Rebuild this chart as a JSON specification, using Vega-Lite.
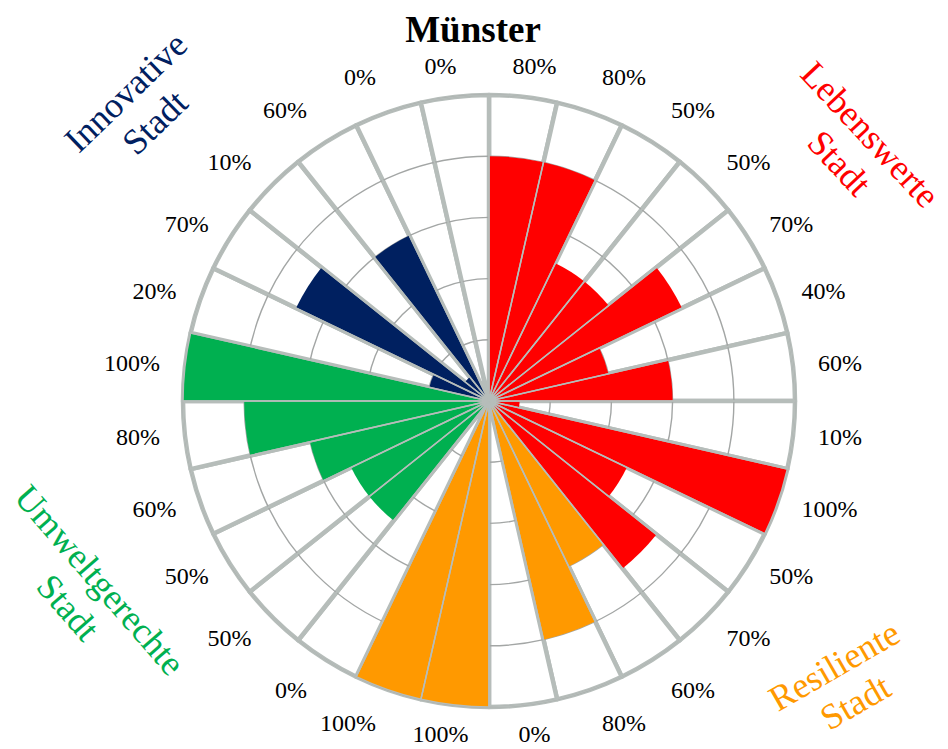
{
  "$schema": "https://vega.github.io/schema/vega-lite/v6.json",
  "autosize": "none",
  "width": 612,
  "height": 612,
  "padding": {"left": 183, "top": 95, "right": 153, "bottom": 42},
  "background": "white",
  "config": {"view": {"stroke": null}, "font": "Liberation Serif"},
  "title": {"text": "Münster", "font": "Liberation Serif", "fontSize": 37, "fontWeight": "bold", "color": "#000000", "anchor": "middle", "frame": "group", "dx": -16, "offset": -24},
  "datasets": {
    "scores": [
      {"seg": 1, "group": "Lebenswerte Stadt", "value": 0.8, "w": 1},
      {"seg": 2, "group": "Lebenswerte Stadt", "value": 0.8, "w": 1},
      {"seg": 3, "group": "Lebenswerte Stadt", "value": 0.5, "w": 1},
      {"seg": 4, "group": "Lebenswerte Stadt", "value": 0.5, "w": 1},
      {"seg": 5, "group": "Lebenswerte Stadt", "value": 0.7, "w": 1},
      {"seg": 6, "group": "Lebenswerte Stadt", "value": 0.4, "w": 1},
      {"seg": 7, "group": "Lebenswerte Stadt", "value": 0.6, "w": 1},
      {"seg": 8, "group": "Lebenswerte Stadt", "value": 0.1, "w": 1},
      {"seg": 9, "group": "Lebenswerte Stadt", "value": 1.0, "w": 1},
      {"seg": 10, "group": "Lebenswerte Stadt", "value": 0.5, "w": 1},
      {"seg": 11, "group": "Lebenswerte Stadt", "value": 0.7, "w": 1},
      {"seg": 12, "group": "Resiliente Stadt", "value": 0.6, "w": 1},
      {"seg": 13, "group": "Resiliente Stadt", "value": 0.8, "w": 1},
      {"seg": 14, "group": "Resiliente Stadt", "value": 0.0, "w": 1},
      {"seg": 15, "group": "Resiliente Stadt", "value": 1.0, "w": 1},
      {"seg": 16, "group": "Resiliente Stadt", "value": 1.0, "w": 1},
      {"seg": 17, "group": "Umweltgerechte Stadt", "value": 0.0, "w": 1},
      {"seg": 18, "group": "Umweltgerechte Stadt", "value": 0.5, "w": 1},
      {"seg": 19, "group": "Umweltgerechte Stadt", "value": 0.5, "w": 1},
      {"seg": 20, "group": "Umweltgerechte Stadt", "value": 0.6, "w": 1},
      {"seg": 21, "group": "Umweltgerechte Stadt", "value": 0.8, "w": 1},
      {"seg": 22, "group": "Umweltgerechte Stadt", "value": 1.0, "w": 1},
      {"seg": 23, "group": "Innovative Stadt", "value": 0.2, "w": 1},
      {"seg": 24, "group": "Innovative Stadt", "value": 0.7, "w": 1},
      {"seg": 25, "group": "Innovative Stadt", "value": 0.1, "w": 1},
      {"seg": 26, "group": "Innovative Stadt", "value": 0.6, "w": 1},
      {"seg": 27, "group": "Innovative Stadt", "value": 0.0, "w": 1},
      {"seg": 28, "group": "Innovative Stadt", "value": 0.0, "w": 1}
    ],
    "rings": [{"ring": 0.2}, {"ring": 0.4}, {"ring": 0.6}, {"ring": 0.8}, {"ring": 1.0}],
    "groups": [
      {"group": "Lebenswerte Stadt", "label": "Lebenswerte\nStadt"},
      {"group": "Resiliente Stadt", "label": "Resiliente\nStadt"},
      {"group": "Umweltgerechte Stadt", "label": "Umweltgerechte\nStadt"},
      {"group": "Innovative Stadt", "label": "Innovative\nStadt"}
    ]
  },
  "layer": [
    {
      "data": {"name": "scores"},
      "mark": {"type": "arc", "fill": "white", "stroke": "#b6bdba", "strokeWidth": 4.5, "strokeJoin": "round"},
      "encoding": {
        "theta": {"field": "w", "type": "quantitative", "stack": true, "scale": {"domain": [0, 28], "range": [0, 6.283185307179586]}},
        "order": {"field": "seg", "type": "quantitative"},
        "radius": {"datum": 1, "type": "quantitative", "scale": {"type": "linear", "domain": [0, 1], "range": [0, 306]}}
      }
    },
    {
      "data": {"name": "rings"},
      "mark": {"type": "arc", "fill": null, "filled": false, "stroke": "#a3a6a5", "strokeWidth": 1.4, "theta": 0, "theta2": 6.283185307179586},
      "encoding": {
        "radius": {"field": "ring", "type": "quantitative", "stack": null}
      }
    },
    {
      "data": {"name": "scores"},
      "transform": [{"stack": "w", "groupby": [], "sort": [{"field": "seg", "order": "ascending"}], "as": ["t0", "t1"]}],
      "mark": {"type": "arc", "stroke": null},
      "encoding": {
        "theta": {"field": "t0", "type": "quantitative"},
        "theta2": {"field": "t1"},
        "radius": {"field": "value", "type": "quantitative", "stack": null},
        "color": {"field": "group", "type": "nominal", "legend": null, "scale": {"domain": ["Lebenswerte Stadt", "Resiliente Stadt", "Umweltgerechte Stadt", "Innovative Stadt"], "range": ["#ff0000", "#ff9900", "#00b050", "#002060"]}}
      }
    },
    {
      "data": {"name": "scores"},
      "mark": {"type": "arc", "filled": false, "fill": null, "stroke": "#b6bdba", "strokeWidth": 1.5, "strokeJoin": "bevel"},
      "encoding": {
        "theta": {"field": "w", "type": "quantitative", "stack": true},
        "order": {"field": "seg", "type": "quantitative"},
        "radius": {"datum": 1, "type": "quantitative"}
      }
    },
    {
      "data": {"name": "scores"},
      "mark": {"type": "text", "fontSize": 24, "font": "Liberation Serif", "color": "#000000", "align": "left", "baseline": "middle"},
      "encoding": {
        "theta": {"field": "w", "type": "quantitative", "stack": true},
        "order": {"field": "seg", "type": "quantitative"},
        "radius": {"datum": 1.082, "type": "quantitative"},
        "text": {"condition": {"test": "datum.seg >= 5 && datum.seg <= 10", "field": "value", "type": "quantitative", "format": ".0%"}, "value": ""}
      }
    },
    {
      "data": {"name": "scores"},
      "mark": {"type": "text", "fontSize": 24, "font": "Liberation Serif", "color": "#000000", "align": "left", "baseline": "middle"},
      "encoding": {
        "theta": {"field": "w", "type": "quantitative", "stack": true},
        "order": {"field": "seg", "type": "quantitative"},
        "radius": {"datum": 1.098, "type": "quantitative"},
        "text": {"condition": {"test": "datum.seg == 4 || datum.seg == 11", "field": "value", "type": "quantitative", "format": ".0%"}, "value": ""}
      }
    },
    {
      "data": {"name": "scores"},
      "mark": {"type": "text", "fontSize": 24, "font": "Liberation Serif", "color": "#000000", "align": "left", "baseline": "middle"},
      "encoding": {
        "theta": {"field": "w", "type": "quantitative", "stack": true},
        "order": {"field": "seg", "type": "quantitative"},
        "radius": {"datum": 1.118, "type": "quantitative"},
        "text": {"condition": {"test": "datum.seg == 2 || datum.seg == 3 || datum.seg == 12 || datum.seg == 13", "field": "value", "type": "quantitative", "format": ".0%"}, "value": ""}
      }
    },
    {
      "data": {"name": "scores"},
      "mark": {"type": "text", "fontSize": 24, "font": "Liberation Serif", "color": "#000000", "align": "right", "baseline": "middle"},
      "encoding": {
        "theta": {"field": "w", "type": "quantitative", "stack": true},
        "order": {"field": "seg", "type": "quantitative"},
        "radius": {"datum": 1.082, "type": "quantitative"},
        "text": {"condition": {"test": "datum.seg >= 19 && datum.seg <= 24", "field": "value", "type": "quantitative", "format": ".0%"}, "value": ""}
      }
    },
    {
      "data": {"name": "scores"},
      "mark": {"type": "text", "fontSize": 24, "font": "Liberation Serif", "color": "#000000", "align": "right", "baseline": "middle"},
      "encoding": {
        "theta": {"field": "w", "type": "quantitative", "stack": true},
        "order": {"field": "seg", "type": "quantitative"},
        "radius": {"datum": 1.098, "type": "quantitative"},
        "text": {"condition": {"test": "datum.seg == 18 || datum.seg == 25", "field": "value", "type": "quantitative", "format": ".0%"}, "value": ""}
      }
    },
    {
      "data": {"name": "scores"},
      "mark": {"type": "text", "fontSize": 24, "font": "Liberation Serif", "color": "#000000", "align": "right", "baseline": "middle"},
      "encoding": {
        "theta": {"field": "w", "type": "quantitative", "stack": true},
        "order": {"field": "seg", "type": "quantitative"},
        "radius": {"datum": 1.118, "type": "quantitative"},
        "text": {"condition": {"test": "datum.seg == 16 || datum.seg == 17 || datum.seg == 26 || datum.seg == 27", "field": "value", "type": "quantitative", "format": ".0%"}, "value": ""}
      }
    },
    {
      "data": {"name": "scores"},
      "mark": {"type": "text", "fontSize": 24, "font": "Liberation Serif", "color": "#000000", "align": "center", "baseline": "middle", "dx": 8},
      "encoding": {
        "theta": {"field": "w", "type": "quantitative", "stack": true},
        "order": {"field": "seg", "type": "quantitative"},
        "radius": {"datum": 1.098, "type": "quantitative"},
        "text": {"condition": {"test": "datum.seg == 1 || datum.seg == 14", "field": "value", "type": "quantitative", "format": ".0%"}, "value": ""}
      }
    },
    {
      "data": {"name": "scores"},
      "mark": {"type": "text", "fontSize": 24, "font": "Liberation Serif", "color": "#000000", "align": "center", "baseline": "middle", "dx": -11},
      "encoding": {
        "theta": {"field": "w", "type": "quantitative", "stack": true},
        "order": {"field": "seg", "type": "quantitative"},
        "radius": {"datum": 1.098, "type": "quantitative"},
        "text": {"condition": {"test": "datum.seg == 15 || datum.seg == 28", "field": "value", "type": "quantitative", "format": ".0%"}, "value": ""}
      }
    },
    {
      "data": {"name": "groups"},
      "transform": [{"filter": "datum.group == 'Lebenswerte Stadt'"}],
      "mark": {"type": "text", "fontSize": 36, "font": "Liberation Serif", "align": "center", "baseline": "middle", "angle": 47, "lineBreak": "\n", "lineHeight": 42, "dy": -20},
      "encoding": {
        "theta": {"datum": 4.31, "type": "quantitative"},
        "radius": {"datum": 1.452, "type": "quantitative"},
        "text": {"field": "label", "type": "nominal"},
        "color": {"field": "group", "type": "nominal", "legend": null}
      }
    },
    {
      "data": {"name": "groups"},
      "transform": [{"filter": "datum.group == 'Resiliente Stadt'"}],
      "mark": {"type": "text", "fontSize": 36, "font": "Liberation Serif", "align": "center", "baseline": "middle", "angle": -30, "lineBreak": "\n", "lineHeight": 42, "dy": -20},
      "encoding": {
        "theta": {"datum": 9.995, "type": "quantitative"},
        "radius": {"datum": 1.486, "type": "quantitative"},
        "text": {"field": "label", "type": "nominal"},
        "color": {"field": "group", "type": "nominal", "legend": null}
      }
    },
    {
      "data": {"name": "groups"},
      "transform": [{"filter": "datum.group == 'Umweltgerechte Stadt'"}],
      "mark": {"type": "text", "fontSize": 36, "font": "Liberation Serif", "align": "center", "baseline": "middle", "angle": 49, "lineBreak": "\n", "lineHeight": 42, "dy": -20},
      "encoding": {
        "theta": {"datum": 19.02, "type": "quantitative"},
        "radius": {"datum": 1.466, "type": "quantitative"},
        "text": {"field": "label", "type": "nominal"},
        "color": {"field": "group", "type": "nominal", "legend": null}
      }
    },
    {
      "data": {"name": "groups"},
      "transform": [{"filter": "datum.group == 'Innovative Stadt'"}],
      "mark": {"type": "text", "fontSize": 36, "font": "Liberation Serif", "align": "center", "baseline": "middle", "angle": -44, "lineBreak": "\n", "lineHeight": 42, "dy": -20},
      "encoding": {
        "theta": {"datum": 24.12, "type": "quantitative"},
        "radius": {"datum": 1.49, "type": "quantitative"},
        "text": {"field": "label", "type": "nominal"},
        "color": {"field": "group", "type": "nominal", "legend": null}
      }
    }
  ]
}
